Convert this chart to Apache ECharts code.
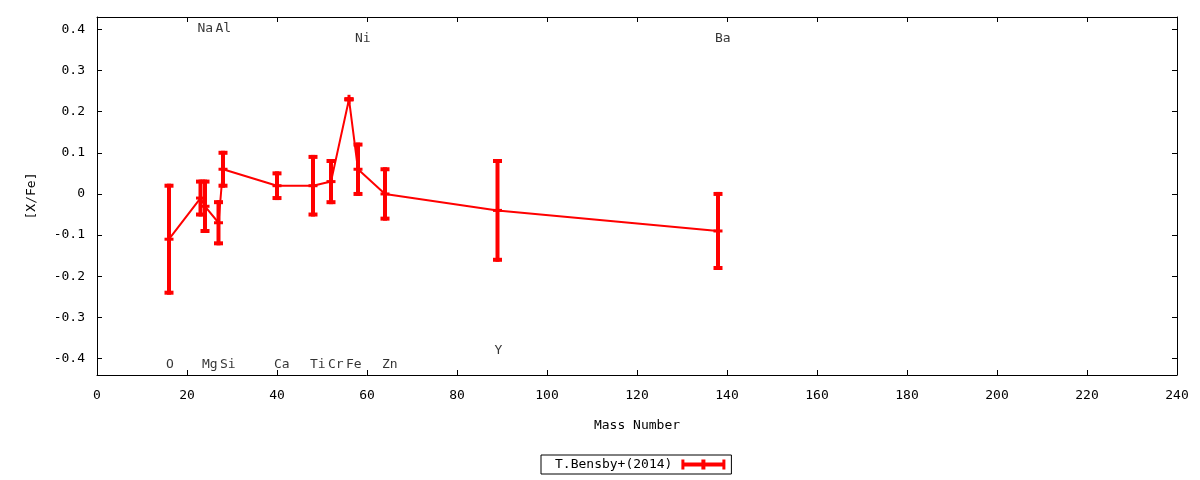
<!DOCTYPE html>
<html>
<head>
<meta charset="utf-8">
<script src="https://cdn.jsdelivr.net/npm/echarts@6/dist/echarts.min.js"></script>
<style>
html,body{margin:0;padding:0;background:#fff;}
#chart{width:1200px;height:480px;}
</style>
</head>
<body>
<div id="chart"></div>
<script>
// ---- data ----
const seriesName = 'T.Bensby+(2014)';
const masses  = [16, 23, 24, 27, 28, 40, 48, 52, 56, 58, 64, 89, 138];
const values  = [-0.11, -0.01, -0.03, -0.07, 0.06, 0.02, 0.02, 0.03, 0.23, 0.06, 0.00, -0.04, -0.09];
const errLow  = [-0.24, -0.05, -0.09, -0.12, 0.02, -0.01, -0.05, -0.02, 0.23, 0.00, -0.06, -0.16, -0.18];
const errHigh = [0.02, 0.03, 0.03, -0.02, 0.10, 0.05, 0.09, 0.08, 0.23, 0.12, 0.06, 0.08, 0.00];

const labelNames = ['Na', 'Al', 'Ni', 'Ba', 'O', 'Mg', 'Si', 'Ca', 'Ti', 'Cr', 'Fe', 'Zn', 'Y'];
const labelMass  = [23, 27, 58, 138, 16, 24, 28, 40, 48, 52, 56, 64, 89];
const labelVal   = [0.405, 0.405, 0.382, 0.382, -0.411, -0.411, -0.411, -0.411, -0.411, -0.411, -0.411, -0.411, -0.377];

const yTicks = [-0.4, -0.3, -0.2, -0.1, 0, 0.1, 0.2, 0.3, 0.4];

// ---- chart ----
const FONT = "'DejaVu Sans Mono', 'Liberation Mono', monospace";
const RED = '#ff0000';
const chart = echarts.init(document.getElementById('chart'), null, {renderer: 'canvas'});

const lineData = masses.map((m, i) => [m, values[i]]);
const errData = masses.map((m, i) => [m, errLow[i], errHigh[i], values[i]]);
const labelData = labelMass.map((m, i) => [m, labelVal[i], labelNames[i]]);

function renderErr(params, api) {
  const x = api.value(0);
  const lo = api.coord([x, api.value(1)]);
  const hi = api.coord([x, api.value(2)]);
  const c = api.coord([x, api.value(3)]);
  const hw = 4.5;
  const st = {stroke: RED, lineWidth: 4, lineCap: 'butt'};
  const st2 = {stroke: RED, lineWidth: 3, lineCap: 'butt'};
  return {
    type: 'group',
    children: [
      {type: 'line', shape: {x1: lo[0], y1: lo[1] + 2, x2: hi[0], y2: hi[1] - 2}, style: st},
      {type: 'line', shape: {x1: hi[0] - hw, y1: hi[1], x2: hi[0] + hw, y2: hi[1]}, style: st},
      {type: 'line', shape: {x1: lo[0] - hw, y1: lo[1], x2: lo[0] + hw, y2: lo[1]}, style: st},
      {type: 'line', shape: {x1: c[0] - hw, y1: c[1], x2: c[0] + hw, y2: c[1]}, style: st2},
      {type: 'line', shape: {x1: c[0], y1: c[1] - hw, x2: c[0], y2: c[1] + hw}, style: st2}
    ]
  };
}

const axisCommonX = {
  type: 'value', min: 0, max: 240, interval: 20,
  axisLine: {show: true, onZero: false, lineStyle: {color: '#000', width: 1}},
  axisTick: {show: true, inside: true, length: 5, lineStyle: {color: '#000'}},
  splitLine: {show: false}
};
const axisCommonY = {
  type: 'value', min: -0.44, max: 0.43,
  axisLine: {show: true, onZero: false, lineStyle: {color: '#000', width: 1}},
  axisTick: {show: true, inside: true, length: 5, customValues: yTicks, lineStyle: {color: '#000'}},
  splitLine: {show: false}
};

const option = {
  animation: false,
  backgroundColor: '#fff',
  textStyle: {fontFamily: FONT, color: '#000'},
  grid: {left: 97, right: 23, top: 17, bottom: 105, containLabel: false},
  legend: {
    show: true,
    left: 541, top: 455,
    align: 'right',
    orient: 'horizontal',
    borderColor: '#000', borderWidth: 1, borderRadius: 0,
    padding: [3, 6, 3, 14],
    itemWidth: 44, itemHeight: 10,
    textStyle: {fontFamily: FONT, fontSize: 13, color: '#000', padding: [0, 4, 0, 0]},
    data: [{
      name: seriesName,
      icon: 'path://M0,0H3V3H20V0H24V3H41V0H44V10H41V7H24V10H20V7H3V10H0Z',
      itemStyle: {color: RED, borderWidth: 0}
    }]
  },
  xAxis: [
    Object.assign({}, axisCommonX, {
      position: 'bottom',
      name: 'Mass Number', nameLocation: 'middle', nameGap: 44,
      nameTextStyle: {fontFamily: FONT, fontSize: 13, color: '#000'},
      axisLabel: {show: true, margin: 14, fontFamily: FONT, fontSize: 13, color: '#000'}
    }),
    Object.assign({}, axisCommonX, {position: 'top', axisLabel: {show: false}})
  ],
  yAxis: [
    Object.assign({}, axisCommonY, {
      position: 'left',
      name: '[X/Fe]', nameLocation: 'middle', nameGap: 59, nameRotate: 90,
      nameTextStyle: {fontFamily: FONT, fontSize: 13, color: '#000'},
      axisLabel: {
        show: true, margin: 12, fontFamily: FONT, fontSize: 13, color: '#000',
        customValues: yTicks,
        formatter: v => String(+(+v).toFixed(1))
      }
    }),
    Object.assign({}, axisCommonY, {position: 'right', axisLabel: {show: false}})
  ],
  series: [
    {
      name: seriesName,
      type: 'line',
      xAxisIndex: 0, yAxisIndex: 0,
      data: lineData,
      showSymbol: false,
      symbol: 'none',
      color: RED,
      lineStyle: {color: RED, width: 2},
      z: 2
    },
    {
      name: seriesName,
      type: 'custom',
      xAxisIndex: 0, yAxisIndex: 0,
      data: errData,
      encode: {x: 0, y: [1, 2, 3]},
      renderItem: renderErr,
      color: RED,
      z: 3
    },
    {
      name: 'labels',
      type: 'scatter',
      xAxisIndex: 0, yAxisIndex: 0,
      data: labelData,
      symbolSize: 0,
      silent: true,
      label: {
        show: true,
        position: 'right',
        distance: 0,
        offset: [-3, 1.5],
        align: 'left',
        verticalAlign: 'middle',
        fontFamily: FONT, fontSize: 13, color: '#000',
        formatter: p => p.data[2]
      },
      z: 4
    }
  ]
};
chart.setOption(option);
</script>
</body>
</html>
